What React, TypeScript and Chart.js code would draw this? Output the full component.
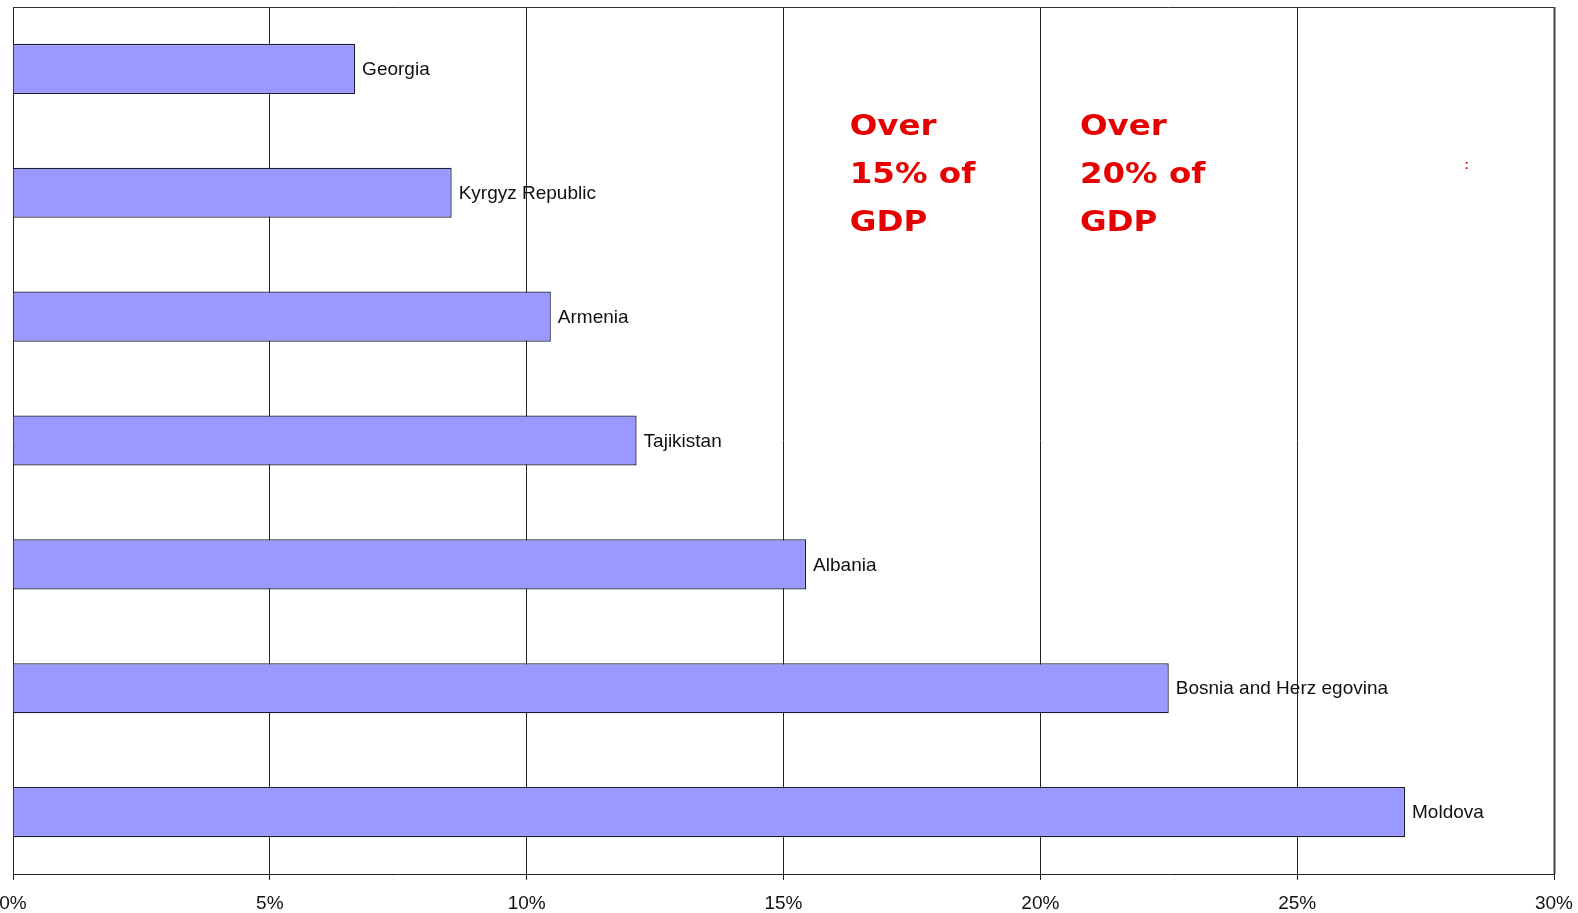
import React, { useEffect, useRef } from "react";
import { Chart, registerables } from "chart.js";

Chart.register(...registerables);

const countries = [
  "Georgia",
  "Kyrgyz Republic",
  "Armenia",
  "Tajikistan",
  "Albania",
  "Bosnia and Herzegovina",
  "Moldova",
];
const barLabels = [
  "Georgia",
  "Kyrgyz Republic",
  "Armenia",
  "Tajikistan",
  "Albania",
  "Bosnia and Herz egovina",
  "Moldova",
];
const remittancesPctGdp = [6.66, 8.54, 10.47, 12.14, 15.44, 22.5, 27.1];
const tickValues = [0, 5, 10, 15, 20, 25, 30];
const annotationLines15 = ["Over", "15% of", "GDP"];
const annotationLines20 = ["Over", "20% of", "GDP"];
const annotationX15 = 16.29;
const annotationX20 = 20.77;
const markX = 28.3;

const labelPlugin = {
  id: "barLabels",
  afterDatasetsDraw(chart: any) {
    const { ctx, chartArea } = chart;
    const meta = chart.getDatasetMeta(0);
    ctx.save();
    ctx.font = "19px 'Liberation Sans', Arial, sans-serif";
    ctx.fillStyle = "#111";
    ctx.textAlign = "left";
    ctx.textBaseline = "middle";
    meta.data.forEach((bar: any, i: number) => {
      ctx.fillText(barLabels[i], bar.x + 7, bar.y + 1);
    });

    // top and right frame
    ctx.strokeStyle = "#333";
    ctx.lineWidth = 1;
    ctx.beginPath();
    ctx.moveTo(chartArea.left, chartArea.top + 0.5);
    ctx.lineTo(chartArea.right, chartArea.top + 0.5);
    ctx.stroke();
    ctx.lineWidth = 2;
    ctx.strokeStyle = "#444";
    ctx.beginPath();
    ctx.moveTo(chartArea.right + 0.5, chartArea.top);
    ctx.lineTo(chartArea.right + 0.5, chartArea.bottom);
    ctx.stroke();

    // red annotations
    const xs = chart.scales.x;
    const drawBlock = (lines: string[], xv: number) => {
      const px = xs.getPixelForValue(xv);
      ctx.save();
      ctx.fillStyle = "#e60000";
      ctx.font = "bold 28px 'DejaVu Sans', 'Liberation Sans', Arial, sans-serif";
      ctx.textBaseline = "alphabetic";
      ctx.textAlign = "left";
      lines.forEach((ln, i) => {
        ctx.save();
        ctx.translate(px, chartArea.top + 128 + i * 48);
        ctx.scale(1.16, 1);
        ctx.fillText(ln, 0, 0);
        ctx.restore();
      });
      ctx.restore();
    };
    drawBlock(annotationLines15, annotationX15);
    drawBlock(annotationLines20, annotationX20);

    // small red mark
    ctx.fillStyle = "#cc1111";
    ctx.font = "bold 13px 'Liberation Sans', Arial, sans-serif";
    ctx.textAlign = "center";
    ctx.textBaseline = "middle";
    ctx.fillText(":", xs.getPixelForValue(markX), chartArea.top + 158);
    ctx.restore();
  },
};

export default function App() {
  const ref = useRef<HTMLCanvasElement | null>(null);
  useEffect(() => {
    if (!ref.current) return;
    const chart = new Chart(ref.current, {
      type: "bar",
      data: {
        labels: countries,
        datasets: [
          {
            data: remittancesPctGdp,
            backgroundColor: "#9999ff",
            borderColor: "#1a1a33",
            borderWidth: 1.3,
            barPercentage: 0.405,
            categoryPercentage: 1,
          },
        ],
      },
      options: {
        indexAxis: "y",
        animation: false,
        responsive: false,
        devicePixelRatio: 1,
        layout: { padding: { left: 13, right: 24, top: 7, bottom: 0 } },
        plugins: {
          legend: { display: false },
          tooltip: { enabled: false },
        },
        scales: {
          x: {
            type: "linear",
            min: 0,
            max: 30,
            afterBuildTicks: (scale: any) => {
              scale.ticks = tickValues.map((v) => ({ value: v }));
            },
            afterFit: (scale: any) => {
              scale.height = 39;
              scale.paddingLeft = 0;
              scale.paddingRight = 0;
            },
            grid: {
              color: "#222",
              lineWidth: 1,
              drawTicks: true,
              tickLength: 6,
              tickColor: "#222",
            },
            border: { display: true, color: "#222", width: 1 },
            ticks: {
              autoSkip: false,
              maxRotation: 0,
              padding: 12,
              color: "#111",
              font: { family: "'Liberation Sans', Arial, sans-serif", size: 19 },
              callback: (v: any) => `${v}%`,
            },
          },
          y: {
            type: "category",
            display: false,
          },
        },
      },
      plugins: [labelPlugin],
    });
    return () => chart.destroy();
  }, []);
  return (
    <div style={{ position: "absolute", left: 0, top: 0, width: 1578, height: 913, background: "#fff" }}>
      <canvas ref={ref} width={1578} height={913} style={{ display: "block" }} />
    </div>
  );
}
